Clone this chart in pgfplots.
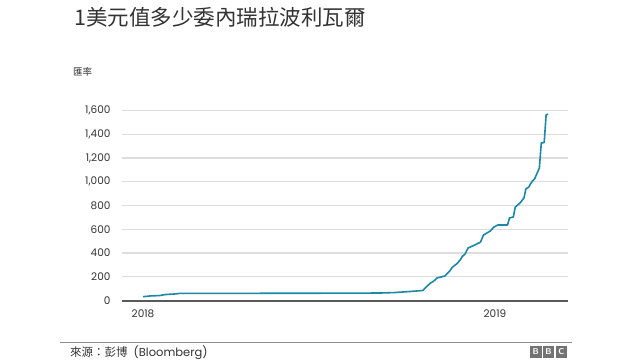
\documentclass[border=0pt]{standalone}
\usepackage{pgfplots}
\pgfplotsset{compat=1.18}
\usepackage{fontspec}
\setmainfont{Poppins}
\newfontfamily\cjk{Noto Sans CJK TC}
\definecolor{linecol}{HTML}{1D87A6}
\definecolor{gridcol}{HTML}{DDDDDD}
\definecolor{txt}{HTML}{333333}
\begin{document}
\begin{tikzpicture}[x=1pt,y=1pt]
\fill[white] (0,0) rectangle (640,360);
\node[anchor=west, text=txt, inner sep=0pt] at (74,343) {\cjk\fontsize{21.5}{24}\selectfont 1美元值多少委內瑞拉波利瓦爾};
\node[anchor=west, text=txt, inner sep=0pt] at (73,288) {\cjk\fontsize{9.5}{10}\selectfont 匯率};
\begin{axis}[
  at={(122pt,59.5pt)}, anchor=south west,
  scale only axis, width=446pt, height=190pt,
  xmin=-21.8, xmax=440.7, ymin=0, ymax=1600,
  axis line style={draw=none},
  ytick={0,200,...,1600},
  xtick={0,365}, xticklabels={2018,2019},
  major tick length=0pt,
  ymajorgrids, grid style={gridcol, line width=1.2pt},
  /pgf/number format/assume math mode=true,
  /pgf/number format/1000 sep={,},
  tick label style={font=\fontsize{10.5}{12}\selectfont, text=txt},
  yticklabel style={xshift=-8pt},
  xticklabel style={yshift=-6pt},
  clip=false,
]
\draw[line width=2pt, color=black!65] (axis cs:-21.8,0) -- (axis cs:440.7,0);
\addplot[color=linecol, line width=1.6pt, line join=round] coordinates {
(0,32) (7,38) (17.6,42) (22.8,50) (33,55) (38,60) (163,61) (246,63) (261,67) (277,76) (290,84)
(298,147) (301,160) (305,190) (313,206) (318,248) (321,282) (325,307) (329,341) (331,370)
(334,392) (337,442) (344,467) (350,492) (353,551) (360,585) (364,619) (368,636) (378,636)
(380,695) (384,703) (386,787) (391,821) (395,863) (397,939) (400,956) (403,998) (406,1023)
(411,1116) (413,1326) (416,1330) (418,1562) (420,1570)
};
\end{axis}
\draw[color=black!45, line width=1.2pt] (60,17.5) -- (572,17.5);
\node[anchor=west, text=txt, inner sep=0pt] at (70,7.5) {\cjk\fontsize{11.5}{13}\selectfont 來源：彭博\hspace{6pt}\fontspec{Poppins}(Bloomberg)};
\foreach \i/\l in {0/B,1/B,2/C}{
  \fill[black!55] ({530+\i*12.8},2.5) rectangle ({541.5+\i*12.8},14.5);
  \node[text=white, font=\sffamily\bfseries\fontsize{8.5}{9}\selectfont, inner sep=0pt] at ({535.75+\i*12.8},8.5) {\l};
}
\end{tikzpicture}
\end{document}
